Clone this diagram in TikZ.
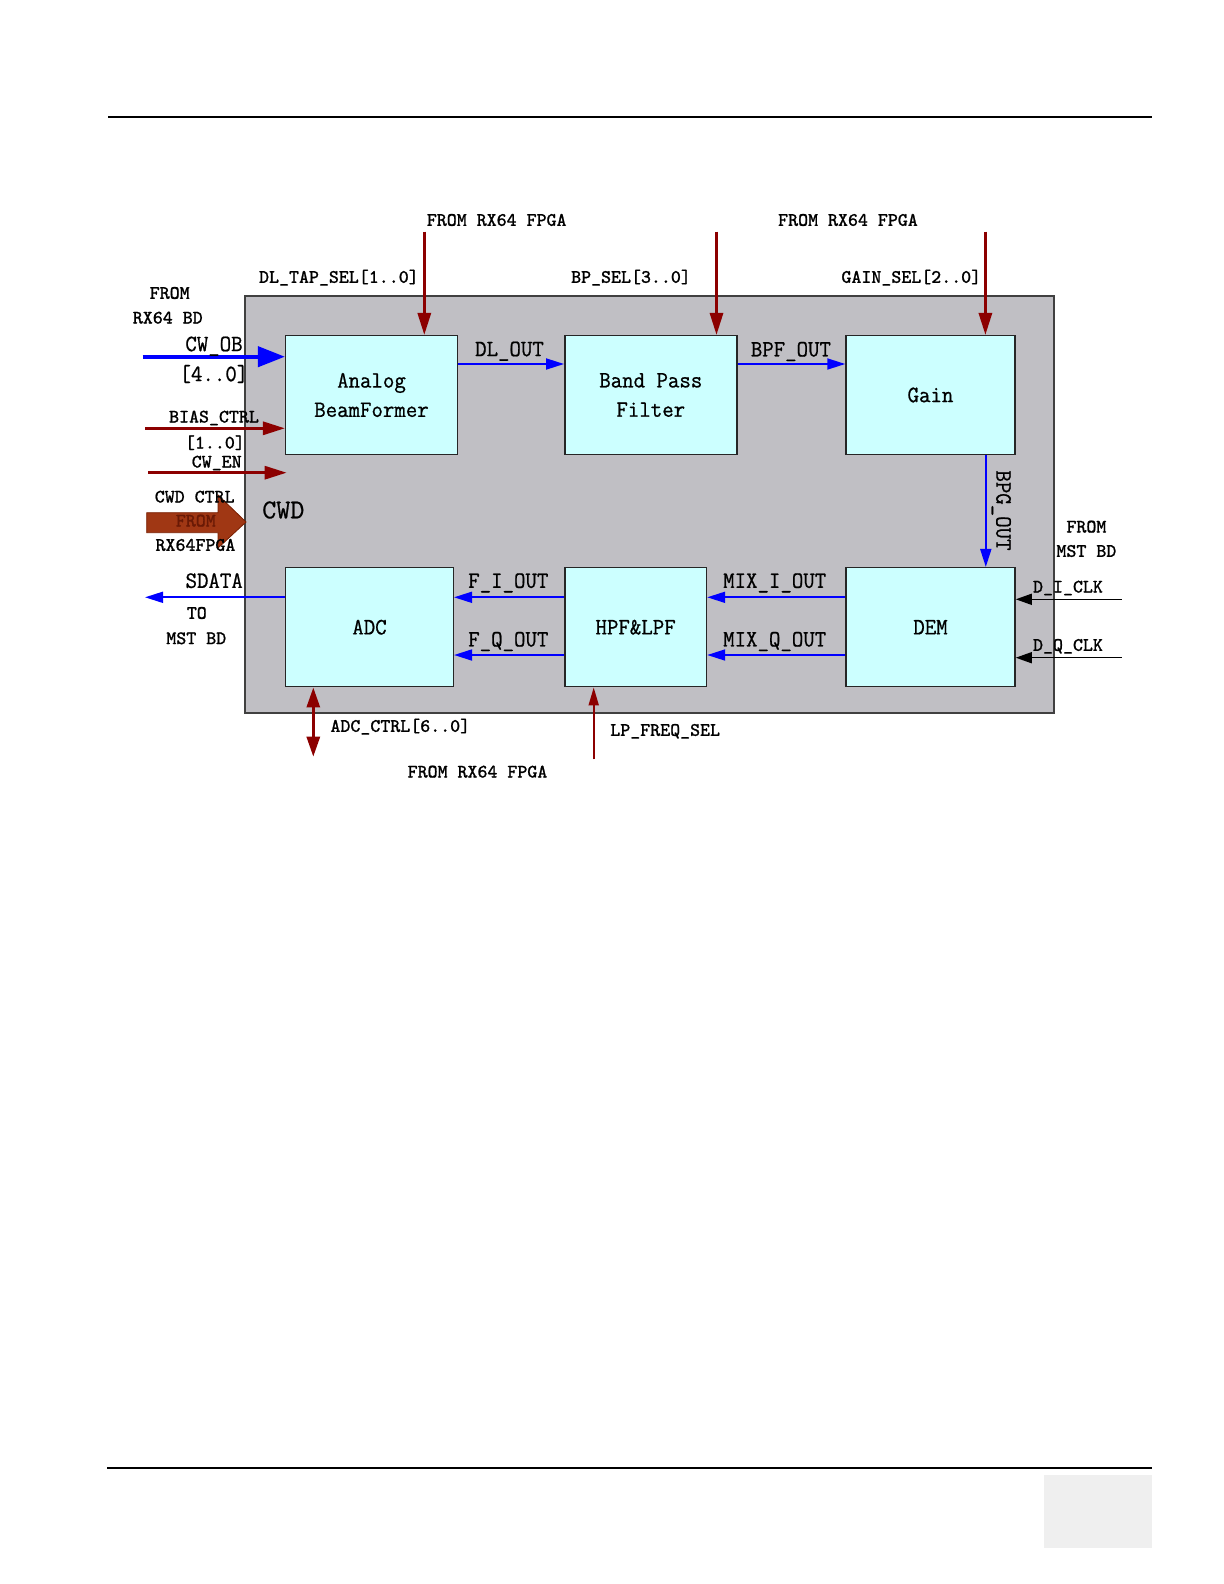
\documentclass[tikz,border=0pt]{standalone}
\usepackage{fontspec}
\usetikzlibrary{arrows.meta}
\newfontfamily\smallmono[FakeBold=1]{Latin Modern Mono}
\newfontfamily\bigmono[FakeStretch=0.95,FakeBold=0.8]{Latin Modern Mono}
\newfontfamily\hugemono[FakeBold=0.8]{Latin Modern Mono}
\definecolor{panelgray}{RGB}{192,191,196}
\definecolor{boxcyan}{RGB}{204,255,255}
\definecolor{ctrlred}{RGB}{140,0,0}
\definecolor{sigblue}{RGB}{0,0,255}
\definecolor{brownarrow}{RGB}{160,55,20}
\definecolor{brownedge}{RGB}{120,30,0}
\definecolor{browntext}{RGB}{105,25,5}
\definecolor{footgray}{RGB}{239,239,239}
\begin{document}
\begin{tikzpicture}[x=0.5pt,y=-0.5pt,
  smalltxt/.style={font=\smallmono\fontsize{9.5}{11}\selectfont, inner sep=0pt, anchor=base, yshift=-2.9pt},
  bigtxt/.style={font=\bigmono\fontsize{11.7}{14.65}\selectfont, inner sep=0pt, anchor=base, yshift=-3.57pt},
  hugetxt/.style={font=\hugemono\fontsize{13.6}{16}\selectfont, inner sep=0pt, anchor=base, yshift=-4.15pt},
  blk/.style={draw=black!85, line width=0.75pt, fill=boxcyan, align=center, inner sep=0pt,
    font=\bigmono\fontsize{11.7}{14.65}\selectfont},
  panel/.style={draw=black!75, line width=0.75pt, fill=panelgray, inner sep=0pt},
  ctrl/.style={draw=ctrlred, line width=1.5pt, -{Triangle[length=11pt,width=6.5pt]}},
  ctrlboth/.style={draw=ctrlred, line width=1.5pt, {Triangle[length=10pt,width=6.5pt]}-{Triangle[length=10pt,width=6.5pt]}},
  ctrlthin/.style={draw=ctrlred, line width=1pt, -{Triangle[length=9pt,width=5pt]}},
  cwob/.style={draw=sigblue, line width=2pt, -{Triangle[length=13.5pt,width=10pt]}},
  sig/.style={draw=sigblue, line width=0.9pt, -{Triangle[length=9pt,width=5.5pt]}},
  clk/.style={draw=black, line width=0.75pt, -{Triangle[length=8pt,width=5.5pt]}},
  rule/.style={draw=black, line width=0.75pt}
]
\useasboundingbox (0,0) rectangle (1224,1584);
\fill[white] (0,0) rectangle (1224,1584);

% page header / footer
\coordinate (hl) at (108,117);
\coordinate (hr) at (1152,117);
\draw[rule] (hl) -- (hr);
\coordinate (fl) at (107,1468);
\coordinate (fr) at (1152,1468);
\draw[rule] (fl) -- (fr);
\fill[footgray] (1044,1475) rectangle (1152,1548);

% panel
\node[panel, minimum width=404.5pt, minimum height=208.5pt] (cwd) at (649.5,504.5) {};

% blocks
\node[blk, minimum width=85.8pt, minimum height=59.3pt] (abf) at (371.5,395) {Analog\\BeamFormer};
\node[blk, minimum width=86pt, minimum height=59.3pt] (bpf) at (650.8,395) {Band Pass\\Filter};
\node[blk, minimum width=84.5pt, minimum height=59.3pt] (gain) at (930.5,395) {Gain};
\node[blk, minimum width=83.8pt, minimum height=59.5pt] (adc) at (369.5,627.2) {ADC};
\node[blk, minimum width=70.85pt, minimum height=59.5pt] (hpf) at (635.6,627.2) {HPF\&LPF};
\node[blk, minimum width=84.5pt, minimum height=59.5pt] (dem) at (930.5,627.2) {DEM};

% top control inputs
\coordinate (t1) at (424.3,231.7);
\coordinate (t2) at (716.5,231.7);
\coordinate (t3) at (985.4,231.7);
\draw[ctrl] (t1) -- (t1 |- abf.north);
\draw[ctrl] (t2) -- (t2 |- bpf.north);
\draw[ctrl] (t3) -- (t3 |- gain.north);

\node[smalltxt] (f1) at (496.7,220) {FROM RX64 FPGA};
\node[smalltxt] (f2) at (848,220) {FROM RX64 FPGA};
\node[smalltxt] (dlsel) at (338.9,277) {DL\_TAP\_SEL[1..0]};
\node[smalltxt] (bpsel) at (631,277) {BP\_SEL[3..0]};
\node[smalltxt] (gsel) at (911.3,277) {GAIN\_SEL[2..0]};

% left inputs
\node[smalltxt] (lf1) at (169.7,293) {FROM};
\node[smalltxt] (lf2) at (167.8,317.7) {RX64 BD};
\coordinate (cwin) at (142.7,356.7);
\draw[cwob] (cwin) -- (cwin -| abf.west);
\node[bigtxt] (cwob) at (214,344) {CW\_OB};
\node[bigtxt] (cwobb) at (213.9,374) {[4..0]};

\coordinate (biasin) at (145,428.3);
\draw[ctrl] (biasin) -- (biasin -| abf.west);
\node[smalltxt] (bias) at (214,416.7) {BIAS\_CTRL};
\node[smalltxt] (biasb) at (214.9,442.7) {[1..0]};

\coordinate (enin) at (148.3,472.7);
\coordinate (enout) at (286.7,472.7);
\draw[ctrl] (enin) -- (enout);
\node[smalltxt] (cwen) at (216.7,461.7) {CW\_EN};

% big CWD CTRL arrow
\draw[fill=brownarrow, draw=brownedge, line width=0.4pt]
  (146.7,512.7) -- (218,512.7) -- (218,495) -- (246,522) -- (218,548) -- (218,532.7) -- (146.7,532.7) -- cycle;
\node[smalltxt] (cwdctrl) at (194.7,496.7) {CWD CTRL};
\node[smalltxt, text=browntext] (cwdfrom) at (195.8,520.7) {FROM};
\node[smalltxt] (cwdfpga) at (195.5,545) {RX64FPGA};
\node[hugetxt] (cwdlbl) at (283.3,510) {CWD};

% forward chain
\coordinate (dly) at (0,364);
\draw[sig] (abf.east |- dly) -- (bpf.west |- dly);
\node[bigtxt] (dlout) at (509.5,349) {DL\_OUT};
\draw[sig] (bpf.east |- dly) -- (gain.west |- dly);
\node[bigtxt] (bpfout) at (790.9,349.3) {BPF\_OUT};
\coordinate (bpgx) at (985.8,0);
\draw[sig] (bpgx |- gain.south) -- (bpgx |- dem.north);
\node[font=\bigmono\fontsize{11.7}{14.65}\selectfont, inner sep=0pt, rotate=-90] (bpgout) at (1001.3,510.5) {BPG\_OUT};

% return chain
\coordinate (iy) at (0,597.3);
\coordinate (qy) at (0,655);
\draw[sig] (dem.west |- iy) -- (hpf.east |- iy);
\draw[sig] (dem.west |- qy) -- (hpf.east |- qy);
\node[bigtxt] (mixi) at (774.7,580.7) {MIX\_I\_OUT};
\node[bigtxt] (mixq) at (774.7,639.3) {MIX\_Q\_OUT};
\draw[sig] (hpf.west |- iy) -- (adc.east |- iy);
\draw[sig] (hpf.west |- qy) -- (adc.east |- qy);
\node[bigtxt] (fi) at (508.3,580.7) {F\_I\_OUT};
\node[bigtxt] (fq) at (508.3,639.3) {F\_Q\_OUT};

% SDATA output
\coordinate (sdout) at (145,597.3);
\draw[sig] (adc.west |- iy) -- (sdout);
\node[bigtxt] (sdata) at (214.2,580.7) {SDATA};
\node[smalltxt] (to1) at (196.8,613) {TO};
\node[smalltxt] (to2) at (196.3,638.3) {MST BD};

% clocks
\coordinate (dic) at (1121.5,599.3);
\coordinate (dqc) at (1121.5,657.7);
\draw[clk] (dic) -- (dic -| dem.east);
\draw[clk] (dqc) -- (dqc -| dem.east);
\node[smalltxt] (dicl) at (1068,586.7) {D\_I\_CLK};
\node[smalltxt] (dqcl) at (1068,645) {D\_Q\_CLK};
\node[smalltxt] (rf1) at (1086.4,526.7) {FROM};
\node[smalltxt] (rf2) at (1086.4,551) {MST BD};

% bottom controls
\coordinate (adcc) at (313.3,756.7);
\draw[ctrlboth] (adcc |- adc.south) -- (adcc);
\node[smalltxt] (adcctrl) at (400.3,726) {ADC\_CTRL[6..0]};
\coordinate (lpin) at (593.7,759.3);
\draw[ctrlthin] (lpin) -- (lpin |- hpf.south);
\node[smalltxt] (lpsel) at (665.2,730) {LP\_FREQ\_SEL};
\node[smalltxt] (f3) at (477.5,771.7) {FROM RX64 FPGA};
\end{tikzpicture}
\end{document}
